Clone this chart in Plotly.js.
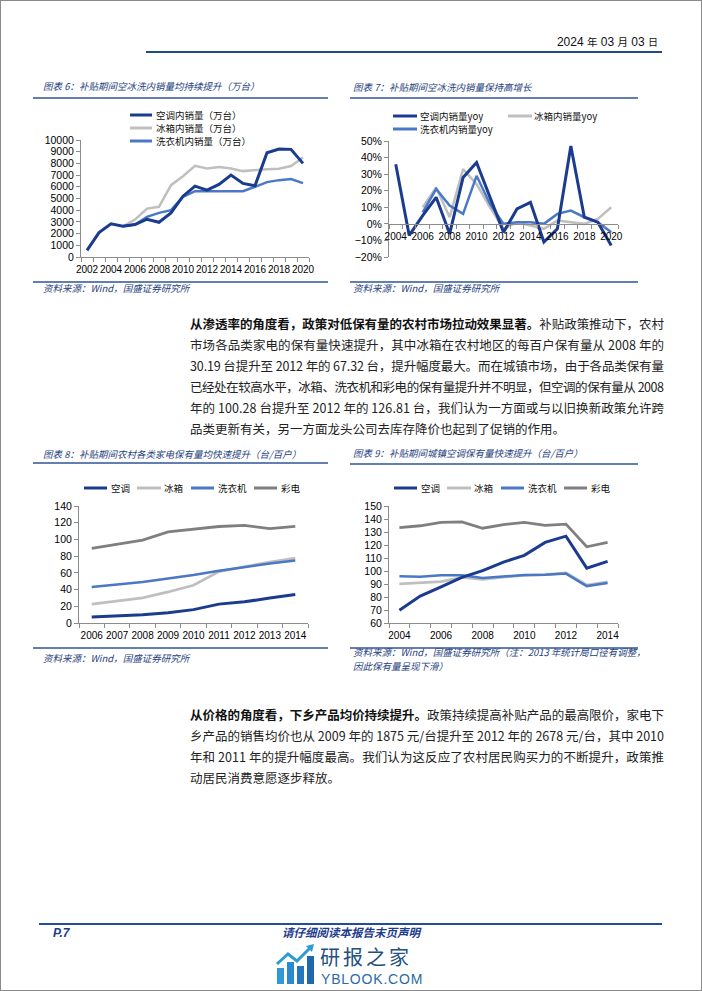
<!DOCTYPE html>
<html><head><meta charset="utf-8">
<script src="https://cdn.plot.ly/plotly-3.0.1.min.js"></script>
<style>
html,body{margin:0;padding:0;background:#fff;}
#page{position:relative;width:702px;height:991px;overflow:hidden;background:#fff;}
#frame{position:absolute;left:0;top:0;width:700px;height:989px;border:1px solid #8a8a8a;pointer-events:none;}
#plot{position:absolute;left:0;top:0;width:702px;height:991px;}
.t{position:absolute;white-space:nowrap;font-family:"Noto Sans CJK SC",sans-serif;line-height:normal;}
.ln{position:absolute;left:190px;width:474px;height:18px;line-height:18px;font-size:12.5px;white-space:nowrap;font-family:"Noto Sans CJK SC","Liberation Sans",sans-serif;color:#222;}
.ln span{display:inline-block;}
.ln b{font-weight:700;color:#111;}
</style></head>
<body>
<div id="page">
  <div id="plot"></div>

  <!-- header -->
  <div class="t" style="right:44px;top:34px;font-size:12px;line-height:16px;color:#111;font-family:'Liberation Sans','Noto Sans CJK SC',sans-serif;">2024 <span style="font-size:10.5px">年</span> 03 <span style="font-size:10.5px">月</span> 03 <span style="font-size:10px">日</span></div>
  <div style="position:absolute;left:146px;top:51px;width:516px;height:2px;background:#1F4E86;"></div>

  <!-- paragraph 1 -->
  <div class="ln" style="top:315px"><span><b>从渗透率的角度看，政策对低保有量的农村市场拉动效果显著。</b>补贴政策推动下，农村</span></div>
  <div class="ln" style="top:336px"><span>市场各品类家电的保有量快速提升，其中冰箱在农村地区的每百户保有量从 2008 年的</span></div>
  <div class="ln" style="top:357px"><span>30.19 台提升至 2012 年的 67.32 台，提升幅度最大。而在城镇市场，由于各品类保有量</span></div>
  <div class="ln" style="top:378px"><span>已经处在较高水平，冰箱、洗衣机和彩电的保有量提升并不明显，但空调的保有量从 2008</span></div>
  <div class="ln" style="top:399px"><span>年的 100.28 台提升至 2012 年的 126.81 台，我们认为一方面或与以旧换新政策允许跨</span></div>
  <div class="ln last" style="top:420px"><span>品类更新有关，另一方面龙头公司去库存降价也起到了促销的作用。</span></div>

  <!-- paragraph 2 -->
  <div class="ln" style="top:706px"><span><b>从价格的角度看，下乡产品均价持续提升。</b>政策持续提高补贴产品的最高限价，家电下</span></div>
  <div class="ln" style="top:727px"><span>乡产品的销售均价也从 2009 年的 1875 元/台提升至 2012 年的 2678 元/台，其中 2010</span></div>
  <div class="ln" style="top:748px"><span>年和 2011 年的提升幅度最高。我们认为这反应了农村居民购买力的不断提升，政策推</span></div>
  <div class="ln last" style="top:769px"><span>动居民消费意愿逐步释放。</span></div>

  <!-- footer -->
  <div style="position:absolute;left:39px;top:923px;width:623px;height:2px;background:#1F4EA0;"></div>
  <div class="t" style="left:53px;top:926px;font-size:12px;font-weight:700;font-style:italic;color:#1E3C8C;font-family:'Liberation Sans',sans-serif;">P.7</div>
  <div class="t" style="left:279px;top:924px;width:144px;text-align:center;font-size:11.5px;font-weight:700;font-style:italic;color:#1E3C8C;">请仔细阅读本报告末页声明</div>
  <svg style="position:absolute;left:275px;top:944px" width="42" height="42" viewBox="0 0 42 42">
    <rect x="2" y="24" width="7" height="16" fill="#2E9AD6"/>
    <rect x="12" y="18" width="7" height="22" fill="#2A8ACB"/>
    <rect x="22" y="22" width="7" height="18" fill="#2478BD"/>
    <rect x="32" y="12" width="7" height="28" fill="#1F67AE"/>
    <polyline points="2,20 13,10 22,17 36,3" fill="none" stroke="#2E9AD6" stroke-width="3"/>
    <polygon points="31,2 39,0 37,8" fill="#2E9AD6"/>
  </svg>
  <div class="t" style="left:320px;top:941.5px;font-size:20px;color:#24507E;letter-spacing:3px;">研报之家</div>
  <div class="t" style="left:321px;top:970.5px;font-size:14px;color:#2C6AA6;font-family:'Liberation Sans',sans-serif;letter-spacing:0.8px;">YBLOOK.COM</div>

  <div id="frame"></div>
</div>

<script>
// ---------------- data ----------------
// Chart 6: domestic sales (10k units)
const years6 = [2002,2003,2004,2005,2006,2007,2008,2009,2010,2011,2012,2013,2014,2015,2016,2017,2018,2019,2020];
const ac6     = [570,2090,2830,2630,2770,3230,2970,3770,5200,6060,5710,6200,7000,6290,6090,8910,9230,9200,8000];
const fridge6 = [null,null,null,2630,3200,4140,4290,6140,6900,7800,7570,7690,7570,7340,7430,7510,7540,7770,8510];
const washer6 = [null,null,null,2630,2770,3430,3770,4000,5140,5630,5630,5660,5690,5630,6000,6400,6570,6660,6310];
const names6  = ['空调内销量（万台）','冰箱内销量（万台）','洗衣机内销量（万台）'];
const ticks6  = [2002,2004,2006,2008,2010,2012,2014,2016,2018,2020];

// Chart 7: domestic sales yoy
const years7 = [2004,2005,2006,2007,2008,2009,2010,2011,2012,2013,2014,2015,2016,2017,2018,2019,2020];
const acYoy     = [0.36,-0.07,0.05,0.16,-0.06,0.28,0.37,0.16,-0.05,0.09,0.13,-0.11,-0.03,0.47,0.04,0.01,-0.13];
const fridgeYoy = [null,null,0.10,0.22,0.04,0.33,0.24,0.10,-0.03,0.01,-0.01,-0.03,0.02,0.01,0.00,0.03,0.10];
const washerYoy = [null,null,0.07,0.21,0.11,0.06,0.29,0.12,0.00,0.01,0.01,0.00,0.06,0.08,0.04,0.01,-0.05];
const names7  = ['空调内销量yoy','冰箱内销量yoy','洗衣机内销量yoy'];
const ticks7  = [2004,2006,2008,2010,2012,2014,2016,2018,2020];

// Chart 8: rural ownership per 100 households
const years8 = [2006,2007,2008,2009,2010,2011,2012,2013,2014];
const ac8     = [7.28,8.54,9.82,12.23,16.0,22.58,25.36,29.8,34.2];
const fridge8 = [22.48,26.12,30.19,37.11,45.19,61.54,67.32,72.9,77.6];
const washer8 = [42.98,45.94,49.11,53.14,57.32,62.57,67.22,71.2,74.8];
const tv8     = [89.43,94.38,99.22,108.94,111.79,115.46,116.9,112.9,115.6];

// Chart 9: urban ownership per 100 households
const years9 = [2004,2005,2006,2007,2008,2009,2010,2011,2012,2013,2014];
const ac9     = [69.81,80.67,87.79,95.08,100.28,106.84,112.07,122.0,126.81,102.2,107.4];
const fridge9 = [90.15,90.72,91.75,95.03,93.63,95.35,96.61,97.23,98.48,89.2,91.7];
const washer9 = [95.9,95.51,96.77,96.77,94.65,96.01,96.92,97.05,98.02,88.4,90.7];
const tv9     = [133.44,134.8,137.43,137.79,132.89,135.65,137.43,135.15,136.07,118.6,122.0];
const names89 = ['空调','冰箱','洗衣机','彩电'];
const ticks8  = [2006,2007,2008,2009,2010,2011,2012,2013,2014];
const ticks9  = [2004,2006,2008,2010,2012,2014];

// ---------------- styling ----------------
const W = 702, H = 991;
const px = x => x / W;
const py = y => 1 - y / H;
const NAVY = '#1B3B8E', GRAY = '#BFBFBF', MBLUE = '#4A78C6', DGRAY = '#7F7F7F';
const AXC = '#8c8c8c';
const NUMF = 'Liberation Sans, Arial, sans-serif';
const CJK = 'Noto Sans CJK SC, sans-serif';
const TITLEC = '#26417E';

function tr(x, y, color, w, xa, ya, name) {
  return {type:'scatter', mode:'lines', x:x, y:y, name:name, xaxis:xa, yaxis:ya,
          line:{color:color, width:w}, hoverinfo:'skip', connectgaps:false};
}
const data = [
  tr(years6, fridge6, GRAY, 2.5, 'x', 'y', names6[1]),
  tr(years6, washer6, MBLUE, 2.5, 'x', 'y', names6[2]),
  tr(years6, ac6, NAVY, 3, 'x', 'y', names6[0]),

  tr(years7, fridgeYoy, GRAY, 2.5, 'x2', 'y2', names7[1]),
  tr(years7, washerYoy, MBLUE, 2.5, 'x2', 'y2', names7[2]),
  tr(years7, acYoy, NAVY, 3, 'x2', 'y2', names7[0]),

  tr(years8, tv8, DGRAY, 2.8, 'x3', 'y3', names89[3]),
  tr(years8, fridge8, GRAY, 2.8, 'x3', 'y3', names89[1]),
  tr(years8, washer8, MBLUE, 2.5, 'x3', 'y3', names89[2]),
  tr(years8, ac8, NAVY, 3, 'x3', 'y3', names89[0]),

  tr(years9, tv9, DGRAY, 2.8, 'x4', 'y4', names89[3]),
  tr(years9, fridge9, GRAY, 2.8, 'x4', 'y4', names89[1]),
  tr(years9, washer9, MBLUE, 2.5, 'x4', 'y4', names89[2]),
  tr(years9, ac9, NAVY, 3, 'x4', 'y4', names89[0])
];

const base = {showline:true, linecolor:AXC, linewidth:1, showgrid:false, zeroline:false, fixedrange:true};
function xax(x0, x1, range, tickvals, anchor, extra) {
  return Object.assign({}, base, {
    domain:[px(x0), px(x1)], range:range, tickmode:'array', tickvals:tickvals,
    ticktext: tickvals.map(String), ticks:'', ticklabelstandoff:3, tickangle:0,
    tickfont:{family:NUMF, size:10, color:'#000'}, anchor:anchor,
    minor:{tick0:range[0], dtick:1, ticks:'outside', ticklen:4, tickwidth:1, tickcolor:AXC, showgrid:false}
  }, extra || {});
}
function yax(y0, y1, range, dtick, anchor, extra) {
  return Object.assign({}, base, {
    domain:[py(y0), py(y1)], range:range, tickmode:'linear', tick0:range[0], dtick:dtick,
    ticks:'outside', ticklen:4, tickwidth:1, tickcolor:AXC, tickformat:'d',
    tickfont:{family:NUMF, size:10.5, color:'#000'}, anchor:anchor
  }, extra || {});
}

function hline(x0, x1, y, color, w) {
  return {type:'line', xref:'paper', yref:'paper', x0:px(x0), x1:px(x1), y0:py(y), y1:py(y),
          line:{color:color, width:w}};
}
function ann(text, x, y, size, color, anchor) {
  return {text:text, x:px(x), y:py(y), xref:'paper', yref:'paper', xanchor:anchor || 'left',
          yanchor:'middle', showarrow:false, borderpad:0,
          font:{family:CJK, size:size, color:color}};
}

const shapes = [
  hline(33, 328, 98, '#2F5597', 1.5), hline(350, 638, 98, '#2F5597', 1.5),
  hline(33, 328, 282, '#2F5597', 1.5), hline(350, 638, 282, '#2F5597', 1.5),
  hline(33, 328, 463, '#2F5597', 1.5), hline(350, 638, 464, '#2F5597', 1.5),
  hline(33, 328, 648, '#2F5597', 1.5), hline(350, 638, 648, '#2F5597', 1.5)
];
const annotations = [
  ann('<i>图表 6：补贴期间空冰洗内销量均持续提升（万台）</i>', 42, 86, 9.5, TITLEC),
  ann('<i>图表 7：补贴期间空冰洗内销量保持高增长</i>', 352, 87, 9.5, TITLEC),
  ann('<i>资料来源：Wind，国盛证券研究所</i>', 42, 288, 9.5, TITLEC),
  ann('<i>资料来源：Wind，国盛证券研究所</i>', 352, 288, 9.5, TITLEC),
  ann('<i>图表 8：补贴期间农村各类家电保有量均快速提升（台/百户）</i>', 42, 454, 9.5, TITLEC),
  ann('<i>图表 9：补贴期间城镇空调保有量快速提升（台/百户）</i>', 352, 453, 9.5, TITLEC),
  ann('<i>资料来源：Wind，国盛证券研究所</i>', 42, 658, 9.5, TITLEC),
  ann('<i>资料来源：Wind，国盛证券研究所（注：2013 年统计局口径有调整，</i>', 352, 652, 9.5, TITLEC),
  ann('<i>因此保有量呈现下滑）</i>', 352, 666, 9.5, TITLEC)
];

// manual legends (layout positions)
function legendItem(name, color, x0, x1, y, tx) {
  shapes.push(hline(x0, x1, y, color, 3));
  annotations.push(ann(name, tx, y, 9.5, '#111'));
}
legendItem(names6[0], NAVY, 130, 152, 115, 155);
legendItem(names6[1], GRAY, 130, 152, 128, 155);
legendItem(names6[2], MBLUE, 130, 152, 141, 155);

legendItem(names7[0], NAVY, 393, 417, 116, 419);
legendItem(names7[1], GRAY, 508, 532, 116, 533);
legendItem(names7[2], MBLUE, 393, 417, 129, 419);

const cols89 = [NAVY, GRAY, MBLUE, DGRAY];
const leg8 = [[84,107,110],[137,161,163],[191,214,217],[254,277,280]];
const leg9 = [[394,417,420],[447,471,473],[501,524,527],[564,587,590]];
names89.forEach((n, i) => {
  legendItem(n, cols89[i], leg8[i][0], leg8[i][1], 488, leg8[i][2]);
  legendItem(n, cols89[i], leg9[i][0], leg9[i][1], 488, leg9[i][2]);
});

const layout = {
  width:W, height:H, margin:{l:0, r:0, t:0, b:0},
  paper_bgcolor:'rgba(0,0,0,0)', plot_bgcolor:'rgba(0,0,0,0)',
  showlegend:false, font:{family:NUMF, size:10, color:'#000'},
  xaxis:  xax(81, 309, [2001.5, 2020.5], ticks6, 'y'),
  yaxis:  yax(257, 140, [0, 10000], 1000, 'x'),
  xaxis2: xax(389, 618, [2003.5, 2020.5], ticks7, 'free', {position: py(224)}),
  yaxis2: yax(257, 141, [-0.2, 0.5], 0.1, 'x2', {tickformat:'.0%'}),
  xaxis3: xax(79, 308, [2005.5, 2014.5], ticks8, 'y3'),
  yaxis3: yax(623, 506, [0, 140], 20, 'x3'),
  xaxis4: xax(389, 618, [2003.5, 2014.5], ticks9, 'y4'),
  yaxis4: yax(623, 506, [60, 150], 10, 'x4'),
  shapes:shapes, annotations:annotations
};

Plotly.newPlot('plot', data, layout, {staticPlot:true, displayModeBar:false});

// justify paragraph lines to the text block width
function fitLines() {
  document.querySelectorAll('.ln').forEach(el => {
    const span = el.firstElementChild;
    span.style.letterSpacing = '0px';
    const w = span.getBoundingClientRect().width;
    const n = span.textContent.length;
    if (el.classList.contains('last')) {
      if (w > 474) span.style.letterSpacing = ((474 - w) / n) + 'px';
    } else {
      span.style.letterSpacing = ((474 - w) / (n - 1)) + 'px';
    }
  });
}
if (document.fonts && document.fonts.ready) { document.fonts.ready.then(fitLines); }
fitLines();
</script>
</body></html>
